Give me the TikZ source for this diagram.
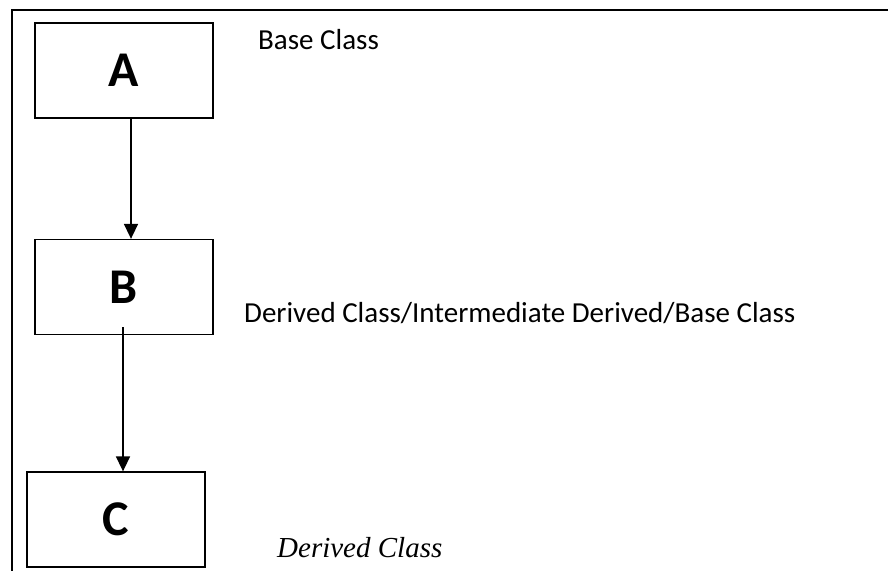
\documentclass[tikz,border=0pt]{standalone}
\usepackage{fontspec}
\setmainfont{Carlito}
\newfontfamily\timesfont{Liberation Serif}
\usetikzlibrary{arrows.meta}
\begin{document}
\begin{tikzpicture}[x=1pt,y=-1pt,
  classbox/.style={draw,line width=1.3pt,minimum width=178pt,minimum height=95pt,inner sep=0pt,font=\fontsize{50}{56}\selectfont\bfseries},
  lbl/.style={anchor=base west,inner sep=0pt,font=\fontsize{29}{34}\selectfont},
  conn/.style={line width=1.6pt,-{Triangle[length=15pt,width=14pt]}}]
\useasboundingbox (0,0) rectangle (888,570);
\fill[white] (0,0) rectangle (888,570);
\draw[line width=1.5pt] (888,10) -- (12,10) -- (12,572);
\node[classbox] (A) at (124,70.5) {A};
\node[classbox] (B) at (124,287) {B};
\node[classbox] (C) at (116,519.5) {C};
\node[lbl] (la) at (258,49) {Base Class};
\node[lbl] (lb) at (244,322) {Derived Class/Intermediate Derived/Base Class};
\node[lbl,font=\fontsize{29}{32}\selectfont\timesfont\itshape] (lc) at (277,557) {Derived Class};
\coordinate (bs) at (123,327);
\draw[conn] (A.south -| 131,0) -- (B.north -| 131,0);
\draw[conn] (bs) -- (C.north -| bs);
\end{tikzpicture}
\end{document}
